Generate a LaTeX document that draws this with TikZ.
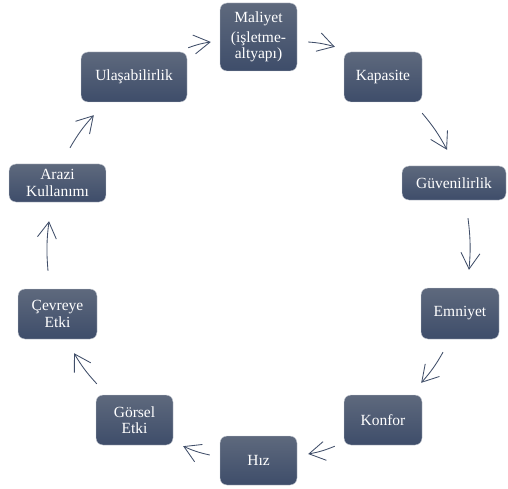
\documentclass[tikz,border=0pt]{standalone}
\usepackage{fontspec}
\setmainfont{Liberation Serif}
\usetikzlibrary{arrows.meta}
\definecolor{boxtop}{HTML}{5E697D}
\definecolor{boxbottom}{HTML}{3E4D6A}
\definecolor{boxedge}{HTML}{C9CDD5}
\definecolor{arrowslate}{HTML}{404E69}

\begin{document}
\begin{tikzpicture}[x=1pt,y=1pt,
    factor/.style={draw=boxedge,line width=0.4pt,rounded corners=7pt,
      top color=boxtop,bottom color=boxbottom,text=white,align=center,
      inner sep=0pt,font=\fontsize{15.5}{16.5}\selectfont},
    cycarrow/.style={draw=arrowslate,line width=0.85pt,bend left=6,
      -{Straight Barb[length=16pt,width=19pt]}}]
  \useasboundingbox (0,0) rectangle (508,488);
  % the ten factors, clockwise from the top
  \node[factor,minimum width=77pt,minimum height=68pt] (maliyet) at (258.5,451) {Maliyet\\[3pt](işletme-\\altyapı)};
  \node[factor,minimum width=78pt,minimum height=50pt] (kapasite) at (383,411) {Kapasite};
  \node[factor,minimum width=104pt,minimum height=34pt] (guven) at (454,305) {Güvenilirlik};
  \node[factor,minimum width=78pt,minimum height=51pt] (emniyet) at (460,174.5) {Emniyet};
  \node[factor,minimum width=78pt,minimum height=50pt] (konfor) at (383,68) {Konfor};
  \node[factor,minimum width=77pt,minimum height=49pt] (hiz) at (258.5,27.5) {Hız};
  \node[factor,minimum width=77pt,minimum height=50pt] (gorsel) at (134.5,68) {Görsel\\Etki};
  \node[factor,minimum width=79pt,minimum height=50pt] (cevre) at (57.5,174) {Çevreye\\Etki};
  \node[factor,minimum width=97pt,minimum height=38pt] (arazi) at (57.5,305) {Arazi\\Kullanımı};
  \node[factor,minimum width=106pt,minimum height=50pt] (ulas) at (134,411) {Ulaşabilirlik};
  % arrows of the cycle
  \draw[cycarrow] ([shift={(1,4)}]ulas.north east) to ([shift={(-9,-5)}]maliyet.west);
  \draw[cycarrow] ([shift={(11,-5)}]maliyet.east) to ([shift={(-9,5)}]kapasite.north west);
  \draw[cycarrow] ([shift={(0,-11)}]kapasite.south east) to ([shift={(-7,16)}]guven.north);
  \draw[cycarrow] ([shift={(14,-18)}]guven.south) to ([shift={(9,18)}]emniyet.north);
  \draw[cycarrow] ([shift={(-17,-13)}]emniyet.south) to ([shift={(-1,12)}]konfor.north east);
  \draw[cycarrow] ([shift={(-9,-1)}]konfor.south west) to ([shift={(11,6.5)}]hiz.east);
  \draw[cycarrow] ([shift={(-10,5.5)}]hiz.west) to ([shift={(10,-1)}]gorsel.south east);
  \draw[cycarrow] ([shift={(1,11)}]gorsel.north west) to ([shift={(16.5,-14)}]cevre.south);
  \draw[cycarrow] ([shift={(-9.5,18)}]cevre.north) to ([shift={(-8.5,-19)}]arazi.south);
  \draw[cycarrow] ([shift={(12.5,16)}]arazi.north) to ([shift={(13,-13)}]ulas.south west);
\end{tikzpicture}
\end{document}
